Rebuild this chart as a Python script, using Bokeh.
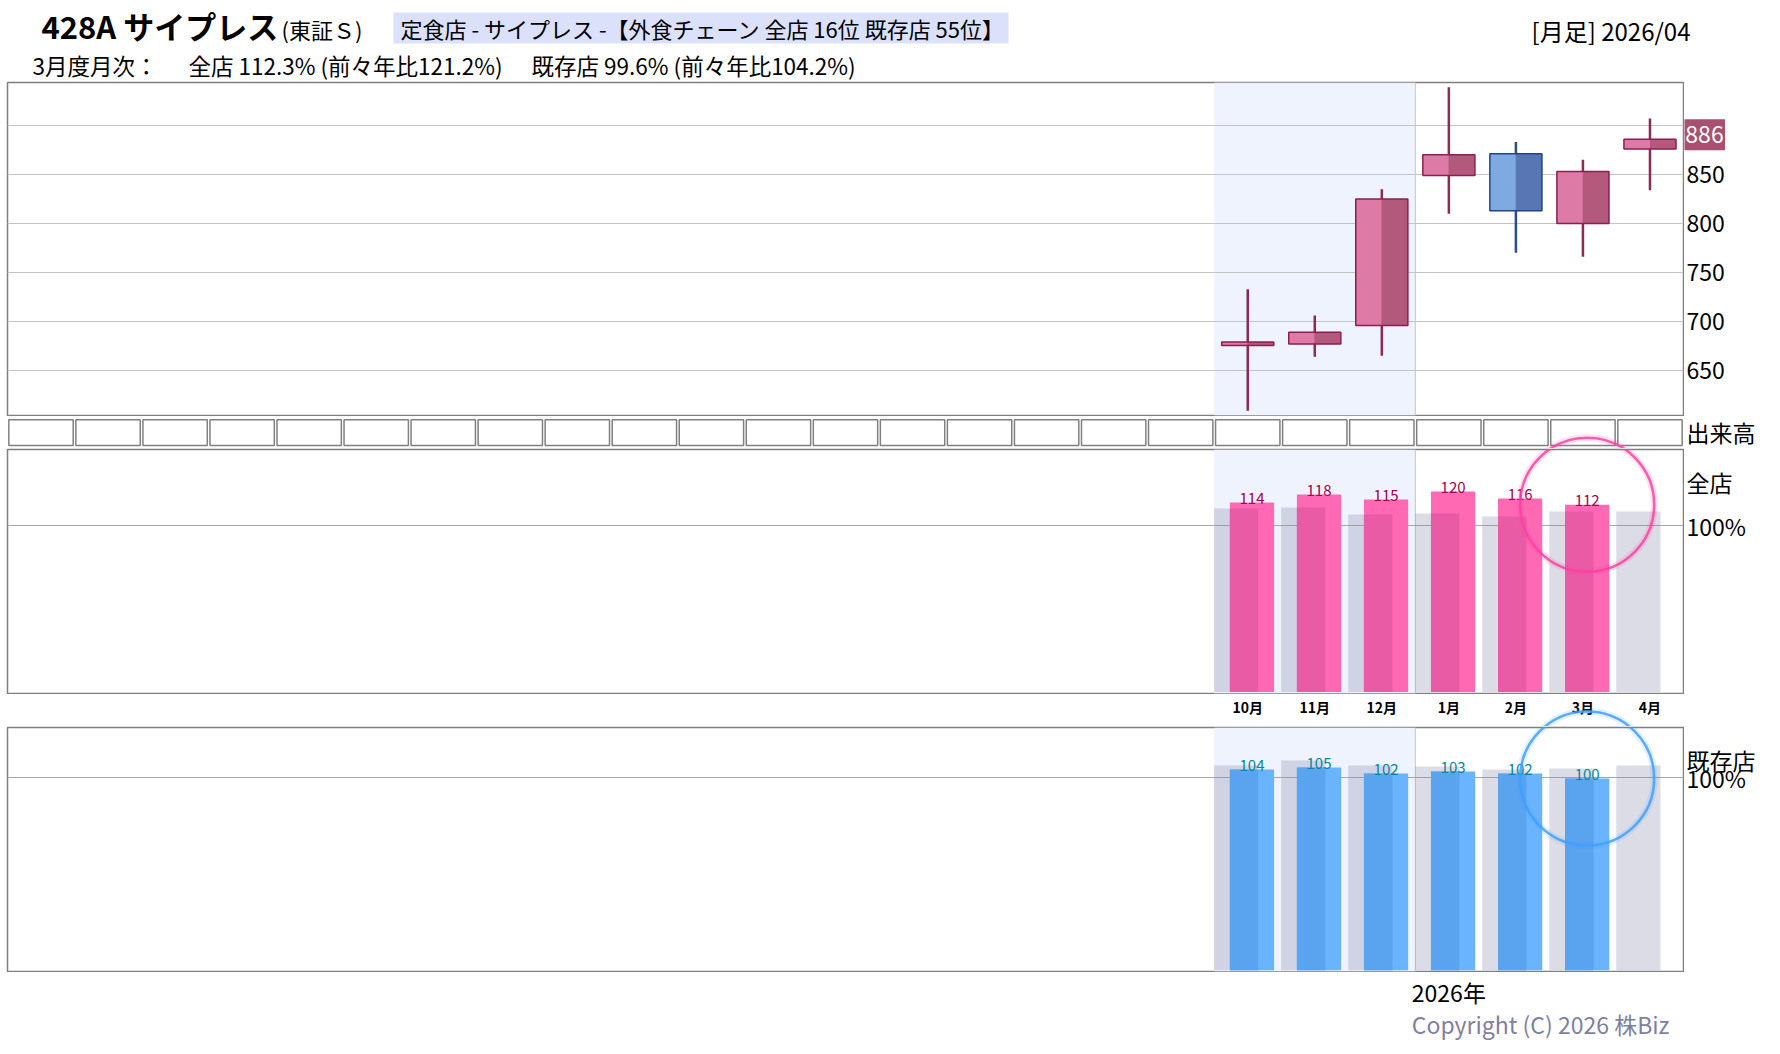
from bokeh.plotting import figure
from bokeh.layouts import column, row
from bokeh.models import Range1d, FixedTicker, BoxAnnotation, Span, Grid
from bokeh.core.properties import value
from bokeh.embed import file_html
from bokeh.resources import INLINE

FONT = "Noto Sans CJK JP"

# ---------------- data ----------------
months = ["10月", "11月", "12月", "1月", "2月", "3月", "4月"]
n_slots = 25
first_slot = 18
opens = [675.5, 677, 696, 849, 871, 800, 876]
highs = [733, 706, 835, 939, 883, 865, 907]
lows = [609, 664, 665, 810, 770, 766, 834]
closes = [679, 689, 825, 870, 813, 853, 886]
price_ticks = [650, 700, 750, 800, 850]
grid_ticks = [650, 700, 750, 800, 850, 900]
all_store = [113.6, 118.2, 115.3, 119.9, 115.9, 112.3]
all_store_prev = [110.1, 110.6, 106.6, 107.2, 105.4, 108.3, 108.3]
existing = [104.1, 105.2, 102.1, 103.2, 102.2, 99.6]
existing_prev = [106.2, 108.6, 106.2, 105.6, 104.1, 104.6, 106.2]
ratio_ticks = [100]
ratio_tick_labels = ["100%"]
band_months = 3          # 10月..12月 (2025) shaded
year_label = "2026年"

# ---------------- geometry / style ----------------
FW = 1676
SW = 88
RH = 244                 # ratio panel frame height
xr = Range1d(-0.5, n_slots - 0.5)
xs = [first_slot + i for i in range(len(months))]
band_left = first_slot - 0.5
band_right = first_slot + band_months - 0.5
BORDER = "#7f7f7f"
RING = 134


def strip_grids(p):
    p.center = [r for r in p.center if not isinstance(r, Grid)]


def base(fh, yr, outline=True):
    p = figure(frame_width=FW, frame_height=fh, x_range=xr, y_range=yr,
               output_backend="svg", toolbar_location=None,
               x_axis_location=None, y_axis_location=None,
               min_border_left=7, min_border_right=1,
               min_border_top=1 if outline else 0,
               min_border_bottom=1 if outline else 0)
    strip_grids(p)
    p.outline_line_color = BORDER if outline else None
    p.outline_line_width = 1.5
    p.background_fill_color = "white"
    p.border_fill_color = "white"
    return p


def side(fh, yr, outline=True):
    s = figure(frame_width=SW, frame_height=fh, x_range=Range1d(0, SW), y_range=yr,
               output_backend="svg", toolbar_location=None,
               x_axis_location=None, y_axis_location=None,
               min_border_left=0, min_border_right=0,
               min_border_top=1 if outline else 0,
               min_border_bottom=1 if outline else 0)
    strip_grids(s)
    s.outline_line_color = None
    return s


def side_text(s, ys, texts, x=2, size="23px", color="black", align="left"):
    s.text(x=[x] * len(ys), y=ys, text=texts, text_font=value(FONT),
           text_font_size=size, text_baseline="middle", text_align=align,
           text_color=color)


def band(p):
    p.add_layout(BoxAnnotation(left=band_left, right=band_right,
                               fill_color="#eef3fd", fill_alpha=1.0,
                               line_color=None, level="underlay"))
    p.add_layout(Span(location=band_right, dimension="height",
                      line_color="#c4c4c4", line_width=1, level="underlay"))


def ring(p, x, y, col):
    p.scatter(x=[x], y=[y], size=RING, marker="circle",
              fill_color=None, line_color=col, line_width=7, line_alpha=0.15)
    p.scatter(x=[x], y=[y], size=RING, marker="circle",
              fill_color=None, line_color=col, line_width=2.5, line_alpha=0.85)


# ---------------- header ----------------
HX0, HW, HH = 7, 1772, 81
hdr = figure(frame_width=HW, frame_height=HH, x_range=Range1d(HX0, HX0 + HW),
             y_range=Range1d(HH, 0), output_backend="svg", toolbar_location=None,
             x_axis_location=None, y_axis_location=None, min_border=0)
strip_grids(hdr)
hdr.outline_line_color = None
hdr.quad(left=[393], right=[1008], top=[12], bottom=[43],
         fill_color="#dbe1fb", line_color=None)
hdr.text(x=[41], y=[25], text=["428A サイプレス"], text_font=value(FONT),
         text_font_size="31px", text_font_style="bold", text_baseline="middle",
         text_color="black")
hdr.text(x=[281], y=[28], text=["(東証Ｓ)"], text_font=value(FONT),
         text_font_size="22px", text_baseline="middle", text_color="black")
hdr.text(x=[400], y=[27.5], text=["定食店 - サイプレス -【外食チェーン 全店 16位 既存店 55位】"],
         text_font=value(FONT), text_font_size="22px", text_baseline="middle",
         text_color="black")
hdr.text(x=[1690], y=[29.5], text=["[月足] 2026/04"], text_font=value(FONT),
         text_font_size="24px", text_baseline="middle", text_align="right",
         text_color="black")
hdr.text(x=[32, 188, 531], y=[64.2, 64.2, 64.2],
         text=["3月度月次：", "全店 112.3% (前々年比121.2%)", "既存店 99.6% (前々年比104.2%)"],
         text_font=value(FONT), text_font_size="22.5px", text_baseline="middle",
         text_color="black")

# ---------------- price panel ----------------
pr = base(333, Range1d(604.1, 943.8))
band(pr)
pr.add_layout(Grid(dimension=1, ticker=FixedTicker(ticks=grid_ticks),
                   grid_line_color="#c4c4c4", grid_line_width=1))

bw = 0.777
up = [c >= o for o, c in zip(opens, closes)]
wick_col = ["#8b2a52" if u else "#2c4d8c" for u in up]
left_col = ["#de7aa6" if u else "#7eaae2" for u in up]
right_col = ["#b3597b" if u else "#5876b3" for u in up]
edge_col = ["#8b1f4f" if u else "#22438a" for u in up]
tops = [max(o, c) for o, c in zip(opens, closes)]
bots = [min(o, c) for o, c in zip(opens, closes)]

pr.segment(x0=xs, x1=xs, y0=lows, y1=highs, line_color=wick_col, line_width=2.5)
pr.vbar(x=[x - bw / 4 for x in xs], width=bw / 2, top=tops, bottom=bots,
        fill_color=left_col, line_color=None)
pr.vbar(x=[x + bw / 4 for x in xs], width=bw / 2, top=tops, bottom=bots,
        fill_color=right_col, line_color=None)
pr.vbar(x=xs, width=bw, top=tops, bottom=bots, fill_color=None,
        line_color=edge_col, line_width=1.5)

pr_side = side(333, pr.y_range)
side_text(pr_side, price_ticks, [str(t) for t in price_ticks])
LAST_NUDGE = 4.5
pr_side.rect(x=[20], y=[closes[-1] + LAST_NUDGE], width=41, height=31,
             width_units="screen", height_units="screen",
             fill_color="#a8506e", line_color=None)
side_text(pr_side, [closes[-1] + LAST_NUDGE], [str(closes[-1])], x=20,
          size="23px", color="white", align="center")

# ---------------- volume row (empty) ----------------
VH = 32
vol = base(VH, Range1d(0, VH), outline=False)
slots = list(range(n_slots))
vol.quad(left=[s - 0.48 for s in slots], right=[s + 0.48 for s in slots],
         top=28.7, bottom=3, fill_color="white", line_color="#808080", line_width=1.5)
vol_side = side(VH, vol.y_range, outline=False)
side_text(vol_side, [16.3], ["出来高"])

# ---------------- ratio panels ----------------
GRAY_OFF, COL_OFF, BAR_W = -0.172, 0.063, 0.66


def ratio_panel(yr, cur, prev, c_main, c_overlap, c_text, base_val, circ_col):
    p = base(RH, yr)
    band(p)
    p.add_layout(Grid(dimension=1, ticker=FixedTicker(ticks=ratio_ticks),
                      grid_line_color="#a8a8a8", grid_line_width=1))
    xc = xs[:len(cur)]
    p.vbar(x=[x + GRAY_OFF for x in xs], width=BAR_W, top=prev, bottom=base_val,
           fill_color="#8686a9", fill_alpha=0.29, line_color=None)
    p.vbar(x=[x + COL_OFF for x in xc], width=BAR_W, top=cur, bottom=base_val,
           fill_color=c_main, line_color=None)
    ov_l = COL_OFF - BAR_W / 2
    ov_r = GRAY_OFF + BAR_W / 2
    p.vbar(x=[x + (ov_l + ov_r) / 2 for x in xc], width=ov_r - ov_l,
           top=[min(a, b) for a, b in zip(cur, prev)], bottom=base_val,
           fill_color=c_overlap, line_color=None)
    p.text(x=[x + COL_OFF for x in xc], y=cur, text=[str(round(v)) for v in cur],
           text_font=value(FONT), text_font_size="15px", text_color=c_text,
           text_align="center", text_baseline="alphabetic", y_offset=-4)
    ring(p, xc[-1] + COL_OFF, cur[-1], circ_col)
    return p


def px_below_top(yr, v):
    """pixels from the panel's top canvas edge (incl. 1px border) down to value v"""
    return 1 + (yr.end - v) / (yr.end - yr.start) * RH


zen = ratio_panel(Range1d(2.5, 144.36), all_store, all_store_prev,
                  "#ff69b4", "#ea5ba6", "#a3004f", 3.3, "#ff3fa0")
zen_side = side(RH, zen.y_range)
side_text(zen_side, ratio_ticks, ratio_tick_labels)
side_text(zen_side, [125.3], ["全店"])
# continuation of the pink ring across the volume row above
ring(vol, xs[len(all_store) - 1] + COL_OFF, -px_below_top(zen.y_range, all_store[-1]),
     "#ff3fa0")

MH = 32
mon = base(MH, Range1d(MH, 0), outline=False)
mon.text(x=xs, y=[12] * len(xs), text=months, text_font=value(FONT),
         text_font_size="14px", text_font_style="bold", text_align="center",
         text_baseline="middle", text_color="black")

kiz = ratio_panel(Range1d(3.15, 125.15), existing, existing_prev,
                  "#6ab4ff", "#5aa3ef", "#00879b", 3.8, "#3f9fff")
kiz_side = side(RH, kiz.y_range)
side_text(kiz_side, [108.7], ["既存店"])
side_text(kiz_side, ratio_ticks, ratio_tick_labels)
# continuation of the blue ring across the month-label row above
ring(mon, xs[len(existing) - 1] + COL_OFF, MH + px_below_top(kiz.y_range, existing[-1]),
     "#3f9fff")

# ---------------- footer ----------------
ftr = base(74, Range1d(74, 0), outline=False)
ftr.text(x=[first_slot + band_months], y=[19], text=[year_label], text_font=value(FONT),
         text_font_size="23px", text_align="center", text_baseline="middle",
         text_color="black")
ftr.text(x=[xr.end], y=[51], text=["Copyright (C) 2026 株Biz"], text_font=value(FONT),
         text_font_size="23px", text_align="right", text_baseline="middle",
         x_offset=-14, text_color="#7f7fa0")

layout = column(hdr, row(pr, pr_side, spacing=0), row(vol, vol_side, spacing=0),
                row(zen, zen_side, spacing=0), mon, row(kiz, kiz_side, spacing=0),
                ftr, spacing=0)
open("out.html", "w").write(file_html(layout, INLINE))
